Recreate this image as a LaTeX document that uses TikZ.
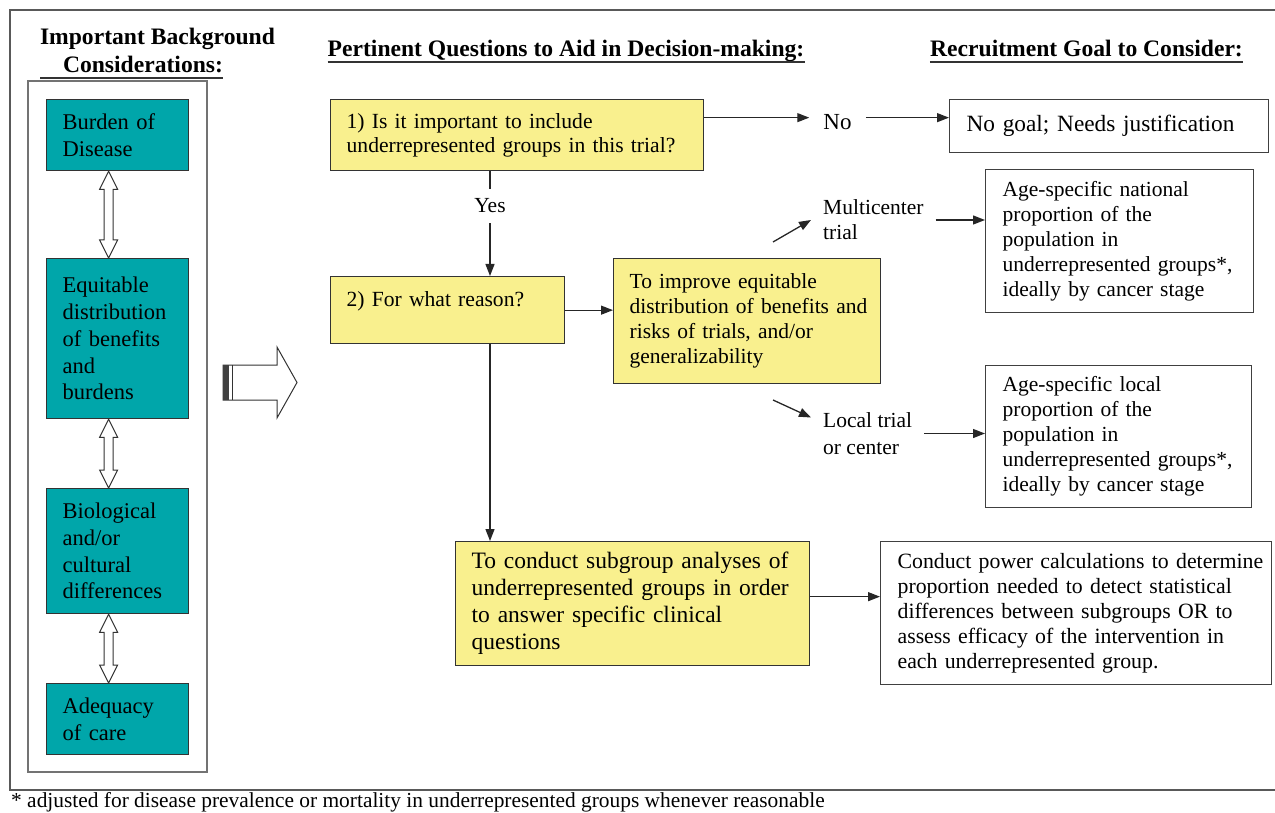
\documentclass[tikz,border=0pt]{standalone}
\usepackage{fontspec}
\setmainfont{Liberation Serif}
\usetikzlibrary{arrows.meta,calc}
\definecolor{tealc}{RGB}{0,166,170}
\definecolor{yellowc}{RGB}{249,240,142}
\newcommand\keepline[1]{\mbox{#1}}
\newcommand\hollowdbl[2]{%
  \filldraw[fill=white, draw=black!80, line width=1pt]
    (#1) -- ++(9,18) -- ++(-4.5,0) -- ($(#2)+(4.5,-18)$) -- ++(4.5,0) -- (#2)
    -- ++(-9,-18) -- ++(4.5,0) -- ($(#1)+(-4.5,18)$) -- ++(-4.5,0) -- cycle;}
\begin{document}
\begin{tikzpicture}[x=1pt,y=-1pt,
  every node/.style={inner sep=0pt},
  bx/.style={draw=black!80, line width=1.3pt, rectangle, anchor=north west,
    inner xsep=16pt, inner ysep=0pt, align=left},
  tealbox/.style={bx, fill=tealc, text width=110pt, font=\fontsize{22.5}{26.7}\selectfont},
  qbox/.style={bx, fill=yellowc, font=\fontsize{21.6}{23.5}\selectfont},
  gbox/.style={bx, fill=white, draw=black!75, line width=1.2pt, inner xsep=17pt},
  lbl/.style={font=\fontsize{21.5}{25}\selectfont, align=left},
  hdr/.style={font=\bfseries\fontsize{23.6}{26}\selectfont, anchor=base},
  arr/.style={-{Triangle[length=12pt,width=9pt]}, line width=1.3pt, black!85},
  ln/.style={line width=1.3pt, black!85}
]
\useasboundingbox (0,0) rectangle (1275,813);

% outer frame
\draw[black!65, line width=1.8pt] (1290,10) -- (10,10) -- (10,790) -- (1290,790);

% headers
\node[hdr] (h1a) at (157.5,45) {Important Background};
\node[hdr] (h1b) at (143,73) {Considerations:};
\draw[line width=1.6pt, black!80] (40,78) -- ([yshift=-5pt]h1b.base east);
\node[hdr] (h2) at (566,57) {Pertinent Questions to Aid in Decision-making:};
\draw[line width=1.6pt, black!80] ([yshift=-5pt]h2.base west) -- ([yshift=-5pt]h2.base east);
\node[hdr] (h3) at (1086.5,57) {Recruitment Goal to Consider:};
\draw[line width=1.6pt, black!80] ([yshift=-5pt]h3.base west) -- ([yshift=-5pt]h3.base east);

% left column
\draw[black!55, line width=1.5pt] (28,81) rectangle (207,772);
\node[tealbox, minimum height=71pt] (burden) at (46,99) {Burden of\\Disease};
\node[tealbox, minimum height=160pt] (equit) at (46,258) {Equitable\\distribution\\of benefits\\and\\burdens};
\node[tealbox, minimum height=125pt] (bio) at (46,488) {Biological\\and/or\\cultural\\differences};
\node[tealbox, minimum height=71pt] (adeq) at (46,683) {Adequacy\\of care};

\coordinate (d1t) at ([xshift=-9pt]burden.south);
\coordinate (d1b) at ([xshift=-9pt]equit.north);
\coordinate (d2t) at ([xshift=-9pt]equit.south);
\coordinate (d2b) at ([xshift=-9pt]bio.north);
\coordinate (d3t) at ([xshift=-9pt]bio.south);
\coordinate (d3b) at ([xshift=-9pt]adeq.north);
\hollowdbl{d1t}{d1b}
\hollowdbl{d2t}{d2b}
\hollowdbl{d3t}{d3b}

% big hollow arrow
\filldraw[fill=white, draw=black!80, line width=1pt]
  (223,365) -- (277,365) -- (277,347) -- (297,382.5) -- (277,418) -- (277,400) -- (223,400) -- cycle;
\fill[black!75] (223,365) rectangle (229,400);
\draw[black!80, line width=1pt] (232,365) -- (232,400);

% question column
\node[qbox, text width=341pt, minimum height=71pt] (q1) at (330,99)
  {1) Is it important to include\\underrepresented groups in this trial?};
\node[qbox, text width=202pt, text height=30pt, text depth=37pt] (q2) at (330,276)
  {2) For what reason?};
\node[qbox, text width=235pt, minimum height=125pt, font=\fontsize{21.5}{25}\selectfont] (improve) at (613,258)
  {To improve equitable\\\keepline{distribution of benefits and}\\risks of trials, and/or\\generalizability};
\node[qbox, text width=322pt, minimum height=124pt, font=\fontsize{23.5}{27}\selectfont] (subgroup) at (455,541)
  {To conduct subgroup analyses of\\underrepresented groups in order\\to answer specific clinical\\questions};

% goal column
\node[gbox, text width=285pt, minimum height=53pt, font=\fontsize{23.3}{26}\selectfont] (nogoal) at (949,99)
  {No goal; Needs justification};
\node[gbox, text width=234pt, minimum height=143pt, font=\fontsize{21.5}{25}\selectfont] (national) at (985,169)
  {Age-specific national\\proportion of the\\population in\\underrepresented groups*,\\ideally by cancer stage};
\node[gbox, text width=232pt, minimum height=142pt, font=\fontsize{21.5}{25}\selectfont] (localbox) at (985,365)
  {Age-specific local\\proportion of the\\population in\\underrepresented groups*,\\ideally by cancer stage};
\node[gbox, text width=357pt, minimum height=143pt, font=\fontsize{21.8}{25}\selectfont] (power) at (880,541)
  {\keepline{Conduct power calculations to determine}\\proportion needed to detect statistical\\differences between subgroups OR to\\assess efficacy of the intervention in\\each underrepresented group.};

% labels
\node[lbl, font=\fontsize{23}{26}\selectfont, inner xsep=14pt] (no) at (837.5,122) {No};
\node[lbl, inner ysep=10pt] (yes) at (490,206) {Yes};
\node[lbl, anchor=west, inner xsep=12pt] (multi) at (811,220) {Multicenter\\trial};
\node[lbl, anchor=west, inner xsep=12pt, font=\fontsize{21.5}{26.5}\selectfont] (local) at (811,433.5) {Local trial\\or center};

% connectors
\coordinate (a1) at ([yshift=17.5pt]q1.east);
\draw[arr] (a1) -- (a1 -| no.west);
\draw[arr] (a1 -| no.east) -- (a1 -| nogoal.west);
\draw[ln] (yes |- q1.south) -- (yes.north);
\draw[arr] (yes.south) -- (yes |- q2.north);
\draw[arr] (q2.east) -- (q2.east -| improve.west);
\draw[arr] (yes |- q2.south) -- (yes |- subgroup.north);
\coordinate (m0) at (773,242);
\draw[arr] (m0) -- (multi.west);
\draw[arr] (multi.east) -- (multi.east -| national.west);
\coordinate (l0) at (773,400);
\draw[arr] (l0) -- ([yshift=16pt]local.west);
\draw[arr] (local.east) -- (local.east -| localbox.west);
\draw[arr] ([yshift=7pt]subgroup.east) -- ([yshift=7pt]subgroup.east -| power.west);

% footnote
\node[anchor=base west, font=\fontsize{21.4}{24}\selectfont] (foot) at (11,807.5)
  {* adjusted for disease prevalence or mortality in underrepresented groups whenever reasonable};
\end{tikzpicture}
\end{document}
